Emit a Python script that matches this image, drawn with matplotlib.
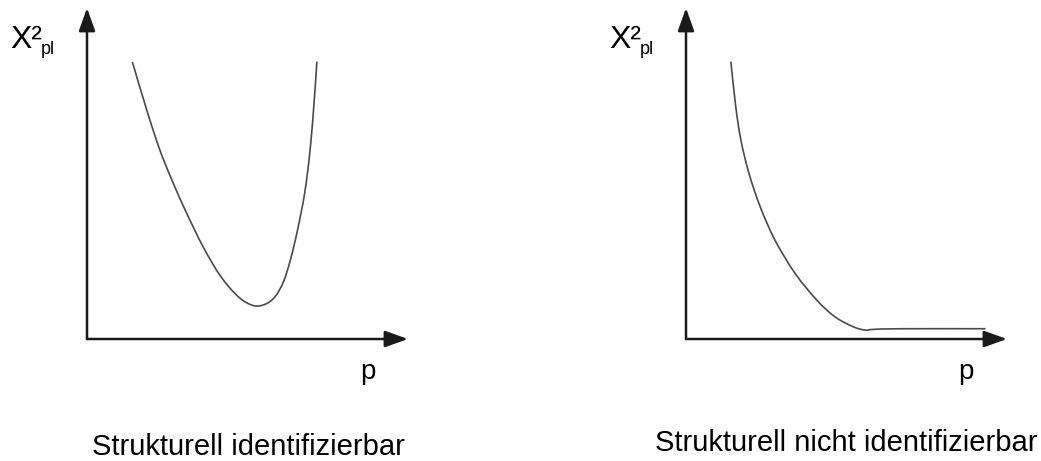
import numpy as np
import matplotlib.pyplot as plt
from matplotlib.path import Path
from matplotlib.patches import PathPatch

plt.rcParams['font.family'] = ['Liberation Sans', 'DejaVu Sans']

W, H = 1041, 461

# Kurve 1: strukturell identifizierbar (deutliches Minimum)
p_ident = [14.2, 18.6, 22.7, 26.9, 31.1, 36.2, 41.6, 47.1, 51.8, 55.5,
           58.6, 61.2, 63.4, 65.6, 67.8, 69.5, 70.8, 71.6]
chi_ident = [83.5, 69.2, 57.1, 47.0, 37.9, 27.8, 19.0, 12.8, 10.1, 10.5,
             12.8, 17.3, 24.0, 33.0, 44.0, 57.1, 72.2, 83.6]

# Kurve 2: strukturell nicht identifizierbar (flaches Plateau)
p_nonident = [14.0, 15.5, 17.1, 19.6, 23.1, 27.7, 34.0, 40.7, 46.4, 52.1,
              55.8, 58.4, 66.7, 93.1]
chi_nonident = [83.6, 70.2, 60.1, 50.1, 40.0, 29.9, 19.8, 11.8, 6.7, 3.7,
                2.7, 2.9, 3.1, 3.1]

titles = ['Strukturell identifizierbar', 'Strukturell nicht identifizierbar']
ylabel_main = 'X²'
ylabel_sub = 'pl'
xlabel = 'p'


def fx(x):
    return x / W


def fy(y):
    return 1 - y / H


def smooth_path(xs, ys):
    """Bezier-Pfad (Catmull-Rom) durch die Stuetzpunkte"""
    pts = np.column_stack([xs, ys]).astype(float)
    verts = [pts[0]]
    codes = [Path.MOVETO]
    n = len(pts)
    for k in range(n - 1):
        p0 = pts[max(k - 1, 0)]
        p1 = pts[k]
        p2 = pts[k + 1]
        p3 = pts[min(k + 2, n - 1)]
        c1 = p1 + (p2 - p0) / 6.0
        c2 = p2 - (p3 - p1) / 6.0
        verts += [c1, c2, p2]
        codes += [Path.CURVE4] * 3
    return Path(verts, codes)


fig = plt.figure(figsize=(W / 100, H / 100), dpi=100)
fig.patch.set_facecolor('white')

panels = [
    (87, p_ident, chi_ident, 10, 368, 248, 447),
    (686, p_nonident, chi_nonident, 609, 966, 846, 443),
]

for i, (x0, px, py, lab_x, p_x, t_x, t_y) in enumerate(panels):
    ax = fig.add_axes([fx(x0), fy(339), 321 / W, 331 / H])
    ax.set_xlim(0, 100)
    ax.set_ylim(0, 100)
    ax.axis('off')

    arrow = dict(arrowstyle='-|>,head_length=1.4,head_width=0.5',
                 color='#1a1a1a', lw=1.8, shrinkA=0, shrinkB=0,
                 mutation_scale=10)
    ax.annotate('', xy=(100, 0), xytext=(0, 0), arrowprops=arrow,
                annotation_clip=False)
    ax.annotate('', xy=(0, 100), xytext=(0, 0), arrowprops=arrow,
                annotation_clip=False)

    ax.add_patch(PathPatch(smooth_path(px, py), facecolor='none',
                           edgecolor='#4a4a4a', lw=1.2,
                           capstyle='round'))

    fig.text(fx(lab_x), fy(48), ylabel_main, fontsize=23, va='baseline',
             ha='left')
    fig.text(fx(lab_x + 31), fy(54), ylabel_sub, fontsize=13,
             va='baseline', ha='left')
    fig.text(fx(p_x), fy(379), xlabel, fontsize=20, va='baseline',
             ha='center')
    fig.text(fx(t_x), fy(t_y), titles[i], fontsize=21, va='center',
             ha='center')

fig.savefig('out.png', dpi=100, facecolor='white')
